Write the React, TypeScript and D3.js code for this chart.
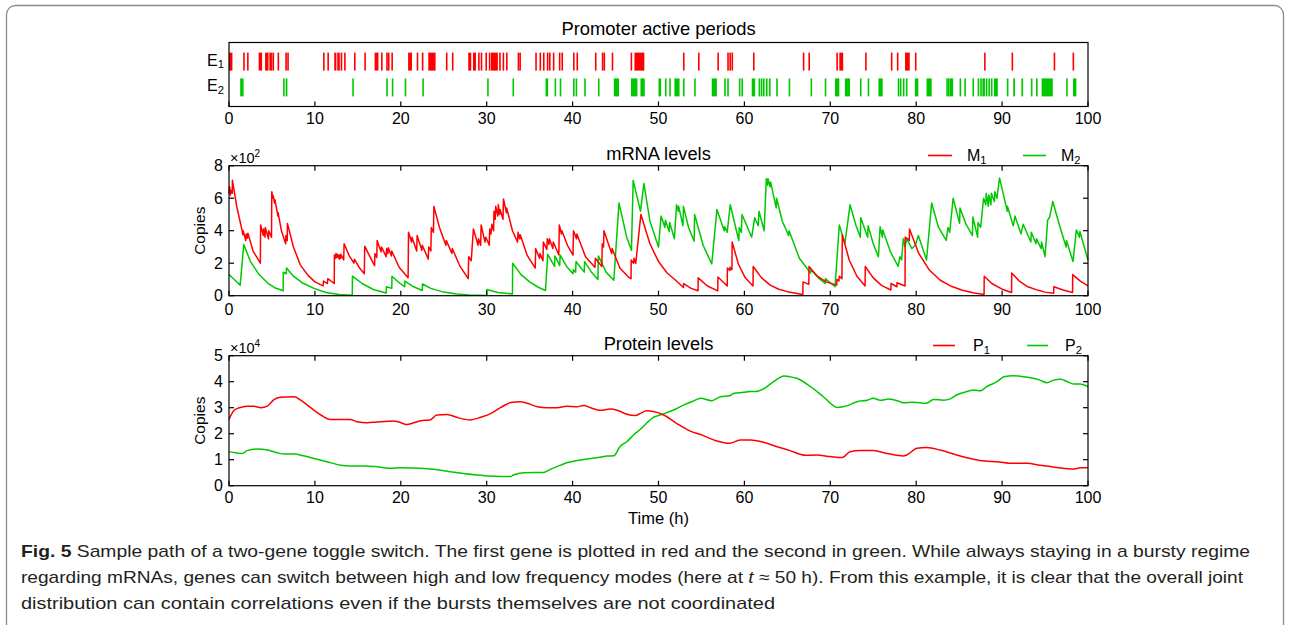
import React from 'react';
import * as d3 from 'd3';

type Pt = [number, number];

const RED = '#ff0000';
const GREEN = '#00c800';
const FONT = "'Liberation Sans', Arial, sans-serif";

const timeTicks = [0, 10, 20, 30, 40, 50, 60, 70, 80, 90, 100];
const mrnaTicks = [0, 2, 4, 6, 8];
const proteinTicks = [0, 1, 2, 3, 4, 5];
const promoterRows = ['1', '2'];

// promoter active periods [start, end] in h
const e1Periods: Pt[] = [
  [0, 0.4], [1.65, 1.8], [2.1, 2.25], [3.45, 3.85], [4.2, 4.6], [4.7, 5.0], [5.05, 5.25], [5.65, 5.8], [6.55, 6.7], [6.78, 6.9],
  [10.95, 11.1], [11.45, 11.6], [12.25, 12.5], [12.6, 12.9], [13.0, 13.1], [13.4, 13.5], [14.55, 14.7], [15.75, 15.9], [16.95, 17.4],
  [17.7, 17.85], [18.3, 18.4], [18.5, 18.6], [18.9, 19.0], [20.85, 21.3], [21.85, 21.95], [22.45, 22.55], [23.2, 24.05], [25.25, 25.35],
  [25.95, 26.05], [27.85, 28.2], [28.4, 28.75], [29.0, 29.1], [29.3, 29.4], [29.85, 29.95], [30.25, 30.35], [30.5, 31.3], [31.45, 31.55],
  [31.85, 31.95], [32.25, 32.35], [33.6, 33.7], [33.8, 33.9], [35.65, 35.75], [36.15, 36.25], [36.55, 36.65], [37.0, 37.1], [37.25, 37.35],
  [37.7, 37.8], [38.4, 38.5], [38.7, 38.8], [40.05, 40.15], [40.45, 40.55], [42.6, 42.7], [43.4, 43.5], [43.6, 43.7], [44.55, 44.65],
  [46.75, 46.85], [47.2, 48.35], [52.85, 52.95], [54.6, 54.7], [56.85, 56.95], [58.0, 58.1], [58.25, 58.35], [58.5, 58.6], [61.0, 61.1],
  [66.8, 66.9], [67.45, 67.55], [70.7, 70.85], [71.05, 71.5], [74.05, 74.15], [77.05, 77.15], [77.75, 77.85], [78.7, 79.25], [79.85, 79.95],
  [87.9, 88.05], [91.1, 91.25], [96.0, 96.1], [98.2, 98.35],
];

const e2Periods: Pt[] = [
  [1.3, 1.7], [6.3, 6.45], [6.6, 6.8], [14.35, 14.5], [18.3, 18.45], [18.95, 19.1], [20.45, 20.6], [22.5, 22.6], [30.05, 30.15], [33.0, 33.12],
  [36.85, 37.15], [37.9, 38.0], [38.5, 38.6], [40.05, 40.15], [40.35, 40.45], [41.35, 41.45], [42.95, 43.05], [44.8, 45.4], [46.8, 47.55],
  [47.9, 48.4], [50.0, 50.3], [50.75, 50.85], [51.25, 51.35], [51.85, 52.45], [52.85, 52.95], [54.15, 54.25], [56.2, 56.8], [57.65, 57.75],
  [58.0, 58.1], [59.35, 59.45], [59.65, 59.75], [60.85, 61.25], [61.65, 61.75], [61.9, 62.0], [62.15, 62.35], [62.5, 62.7], [62.85, 63.05],
  [63.7, 63.8], [65.15, 65.25], [67.7, 67.8], [69.35, 69.45], [70.55, 71.05], [71.7, 72.3], [73.45, 73.55], [74.35, 74.45], [75.6, 76.1],
  [77.85, 77.95], [78.1, 78.2], [78.45, 78.55], [78.8, 78.9], [79.85, 80.25], [81.2, 81.8], [83.5, 83.6], [83.7, 83.8], [83.9, 84.3],
  [85.05, 85.15], [85.6, 85.7], [86.55, 86.65], [87.15, 87.25], [87.45, 87.55], [87.7, 88.0], [88.1, 88.2], [88.4, 88.5], [88.7, 88.8],
  [89.05, 89.5], [90.55, 90.65], [91.3, 91.5], [92.25, 92.45], [93.35, 93.45], [93.95, 94.05], [94.6, 95.9], [97.45, 97.55], [98.25, 98.65],
];

// mRNA copies (x10^2), [t, value]
const m1: Pt[] = [
  [0, 6.3], [0.08, 6.7], [0.15, 6.2], [0.3, 6.5], [0.38, 6.3], [0.4, 7.1], [0.9, 5.5], [1.55, 3.95], [1.6, 3.75], [1.65, 4.0], [1.95, 3.4],
  [2.0, 3.8], [2.15, 3.55], [2.2, 3.85], [2.8, 2.75], [3.65, 2.0], [3.68, 4.35], [4.0, 3.7], [4.02, 4.1], [4.2, 3.6], [4.22, 4.2], [4.6, 3.5],
  [4.62, 4.0], [4.95, 3.6], [4.98, 6.4], [5.1, 6.0], [5.15, 6.15], [5.3, 5.7], [5.35, 5.9], [5.7, 4.9], [5.72, 5.1], [6.1, 4.0], [6.6, 3.2],
  [6.62, 3.7], [6.78, 3.4], [6.8, 4.45], [7.5, 3.0], [8.3, 1.9], [9.2, 1.25], [10.0, 0.85], [10.95, 0.6], [11.0, 0.9], [11.45, 0.75],
  [11.5, 1.05], [12.25, 0.75], [12.27, 2.5], [12.4, 2.3], [12.45, 2.6], [12.6, 2.35], [12.65, 2.55], [12.85, 2.25], [12.87, 2.5], [13.0, 2.3],
  [13.02, 2.55], [13.35, 2.2], [13.4, 3.2], [14.0, 2.45], [14.55, 2.0], [14.6, 2.25], [15.2, 1.7], [15.75, 1.35], [15.8, 3.05], [16.4, 2.4],
  [16.95, 1.85], [16.98, 2.6], [17.2, 2.35], [17.25, 3.4], [17.4, 3.15], [17.7, 2.7], [17.75, 3.0], [18.3, 2.4], [18.35, 2.9], [18.5, 2.6],
  [18.55, 2.95], [18.9, 2.45], [18.95, 2.75], [19.8, 1.75], [20.85, 1.1], [20.9, 3.9], [21.25, 3.3], [21.3, 3.6], [21.85, 2.75], [21.9, 3.7],
  [22.45, 2.8], [22.5, 3.1], [23.2, 2.25], [23.25, 3.0], [23.5, 2.75], [23.55, 4.2], [23.8, 3.9], [23.85, 5.5], [24.5, 4.2], [25.25, 3.1],
  [25.3, 3.4], [25.95, 2.6], [26.0, 2.9], [26.9, 1.8], [27.85, 1.05], [27.9, 2.4], [28.2, 2.15], [28.45, 4.1], [29.0, 3.1], [29.05, 3.5],
  [29.3, 3.1], [29.35, 4.35], [29.8, 3.3], [29.9, 3.6], [30.3, 3.1], [30.35, 4.1], [30.5, 3.8], [30.6, 4.4], [30.8, 4.0], [30.85, 5.2],
  [31.0, 4.7], [31.05, 5.5], [31.3, 4.9], [31.35, 5.6], [31.5, 5.0], [31.55, 5.3], [31.9, 4.7], [31.95, 5.95], [32.3, 5.1], [32.32, 5.4],
  [33.0, 4.0], [33.6, 3.3], [33.65, 3.9], [33.85, 3.5], [33.9, 3.75], [34.7, 2.5], [35.65, 1.7], [35.7, 2.9], [36.15, 2.3], [36.2, 2.6],
  [36.55, 2.15], [36.6, 3.3], [37.0, 2.85], [37.05, 3.5], [37.25, 3.15], [37.3, 3.5], [37.7, 2.9], [37.75, 3.3], [38.4, 2.5], [38.45, 4.35],
  [38.7, 3.8], [38.75, 4.0], [39.4, 3.1], [40.05, 2.5], [40.1, 4.0], [40.45, 3.5], [40.5, 3.8], [41.5, 2.4], [42.6, 1.75], [42.65, 2.3],
  [43.4, 1.8], [43.45, 3.2], [43.6, 3.0], [43.65, 4.0], [44.55, 2.6], [44.6, 2.9], [45.5, 1.7], [46.5, 1.15], [46.8, 1.05], [46.82, 2.2],
  [47.1, 2.0], [47.15, 2.3], [47.35, 2.0], [47.95, 5.0], [49.0, 3.2], [50.0, 2.1], [51.0, 1.4], [52.0, 0.95], [52.9, 0.5], [52.92, 0.75],
  [53.8, 0.45], [54.6, 0.3], [54.62, 1.1], [55.7, 0.6], [56.9, 0.3], [56.92, 1.15], [58.0, 0.6], [58.02, 1.7], [58.3, 1.55], [58.32, 1.75],
  [58.55, 1.6], [58.57, 3.3], [59.3, 1.95], [60.1, 1.1], [61.0, 0.6], [61.02, 1.8], [62.0, 1.1], [63.0, 0.65], [64.0, 0.4], [65.0, 0.25],
  [66.8, 0.08], [66.82, 0.85], [67.5, 0.7], [67.52, 1.8], [68.5, 1.2], [69.5, 0.85], [70.75, 0.65], [70.77, 1.0], [71.0, 0.9], [71.05, 1.2],
  [71.35, 1.05], [71.4, 3.75], [72.2, 2.2], [73.1, 1.2], [74.05, 0.6], [74.07, 1.8], [75.0, 1.1], [76.0, 0.62], [77.05, 0.35], [77.07, 0.75],
  [77.75, 0.55], [77.77, 0.8], [78.7, 0.6], [78.72, 3.6], [79.2, 3.4], [79.22, 4.1], [80.3, 2.6], [81.5, 1.6], [82.8, 0.95], [84.0, 0.6],
  [85.3, 0.35], [86.6, 0.18], [87.9, 0.08], [87.92, 1.2], [88.8, 0.75], [90.0, 0.4], [91.1, 0.2], [91.12, 1.4], [92.0, 0.9], [93.0, 0.55],
  [94.2, 0.33], [95.0, 0.22], [96.0, 0.15], [96.02, 0.55], [97.1, 0.35], [98.2, 0.2], [98.22, 1.3], [99.1, 0.9], [100, 0.6],
];

const m2: Pt[] = [
  [0, 1.3], [0.7, 0.95], [1.3, 0.65], [1.72, 3.15], [2.5, 2.1], [3.5, 1.3], [4.5, 0.78], [5.4, 0.47], [6.3, 0.3], [6.32, 1.45], [6.65, 1.35],
  [6.7, 1.7], [7.5, 1.2], [8.5, 0.8], [9.9, 0.45], [11.3, 0.2], [12.8, 0.08], [14.35, 0.03], [14.37, 1.2], [15.5, 0.75], [16.8, 0.38],
  [18.3, 0.17], [18.32, 0.55], [18.95, 0.45], [18.97, 1.2], [19.8, 0.8], [20.45, 0.55], [20.47, 0.9], [21.5, 0.55], [22.5, 0.32],
  [22.52, 0.72], [23.5, 0.45], [24.8, 0.25], [26.5, 0.1], [28.0, 0.05], [30.0, 0.02], [30.02, 0.38], [31.3, 0.2], [33.0, 0.1], [33.02, 2.0],
  [34.0, 1.3], [35.0, 0.85], [36.0, 0.52], [36.85, 0.32], [37.1, 2.55], [37.9, 1.8], [37.95, 2.45], [38.5, 1.85], [38.55, 2.5], [39.3, 1.8],
  [40.05, 1.35], [40.1, 1.6], [40.35, 1.45], [40.4, 2.1], [41.35, 1.45], [41.4, 2.1], [42.2, 1.45], [42.95, 1.0], [43.0, 2.45], [43.9, 1.45],
  [44.8, 0.95], [45.4, 5.7], [46.3, 3.6], [46.85, 2.8], [47.05, 7.1], [47.9, 5.2], [48.3, 6.9], [49.0, 4.6], [50.0, 3.0], [50.3, 4.9],
  [50.75, 4.2], [50.8, 4.65], [51.25, 3.95], [51.3, 4.5], [51.85, 3.5], [52.1, 5.6], [52.3, 5.2], [52.35, 5.5], [52.85, 4.3], [52.9, 5.5],
  [53.5, 4.2], [54.15, 3.35], [54.2, 5.0], [55.2, 3.1], [56.2, 1.95], [56.8, 5.3], [57.65, 4.0], [57.7, 4.25], [58.0, 3.9], [58.35, 5.6],
  [59.35, 3.4], [59.4, 4.2], [59.65, 3.9], [59.72, 5.0], [60.85, 3.6], [61.2, 4.8], [61.6, 4.3], [61.7, 5.2], [62.3, 4.0], [62.55, 7.2],
  [62.7, 6.8], [62.75, 7.2], [63.0, 6.7], [63.05, 7.0], [63.7, 5.4], [63.75, 6.0], [64.4, 4.6], [65.15, 3.7], [65.2, 4.0], [66.4, 2.3],
  [67.7, 1.4], [67.75, 1.6], [68.6, 1.1], [69.4, 0.75], [69.42, 1.05], [70.55, 0.55], [71.05, 4.35], [71.7, 3.2], [72.3, 5.6], [73.0, 4.3],
  [73.5, 3.6], [73.55, 4.8], [74.35, 3.6], [74.4, 4.3], [75.0, 3.2], [75.6, 2.4], [75.8, 4.25], [76.05, 3.6], [76.1, 4.05], [77.0, 2.7],
  [77.9, 1.8], [78.1, 2.4], [78.3, 2.2], [78.5, 3.5], [78.7, 3.0], [78.9, 3.5], [79.5, 2.9], [79.9, 3.1], [80.25, 3.7], [81.2, 2.2],
  [81.8, 5.7], [82.6, 4.2], [83.5, 3.4], [83.7, 4.2], [83.9, 3.9], [84.3, 6.0], [85.05, 4.45], [85.1, 5.4], [85.8, 4.4], [86.55, 3.7],
  [86.6, 4.85], [87.15, 3.6], [87.2, 4.5], [87.5, 4.2], [87.85, 6.0], [88.1, 5.6], [88.15, 6.3], [88.4, 5.5], [88.45, 6.2], [88.7, 5.6],
  [88.75, 6.3], [89.1, 5.8], [89.15, 6.4], [89.4, 6.0], [89.7, 7.25], [90.6, 5.2], [90.62, 5.5], [91.3, 4.3], [91.5, 4.9], [92.2, 3.8],
  [92.45, 4.4], [93.35, 3.3], [93.4, 3.9], [93.95, 3.2], [94.0, 3.5], [94.55, 2.9], [94.6, 3.3], [95.0, 2.4], [95.3, 4.65], [95.5, 4.8],
  [95.6, 5.0], [95.9, 5.8], [96.7, 4.3], [97.45, 3.0], [97.5, 3.4], [98.25, 2.1], [98.65, 4.05], [99.0, 3.6], [99.05, 3.95], [100, 2.2],
];

// protein copies (x10^4)
const p1: Pt[] = [
  [0, 2.55], [0.6, 2.9], [1.2, 3.0], [2.1, 3.06], [2.9, 3.06], [3.7, 3.0], [4.5, 3.07], [5.2, 3.3], [6.0, 3.4], [7.6, 3.42], [8.3, 3.3],
  [9.5, 3.0], [10.7, 2.72], [11.8, 2.55], [12.6, 2.55], [14.1, 2.55], [14.9, 2.46], [16.1, 2.42], [17.2, 2.45], [19.2, 2.49], [19.8, 2.45],
  [20.7, 2.35], [21.5, 2.42], [22.3, 2.5], [23.4, 2.53], [24.2, 2.72], [25.4, 2.74], [26.5, 2.63], [28.1, 2.53], [29.3, 2.63], [30.4, 2.76],
  [31.6, 3.0], [32.8, 3.2], [33.9, 3.23], [34.7, 3.17], [35.9, 3.04], [37.0, 3.0], [38.2, 3.0], [39.3, 3.06], [40.5, 3.04], [41.3, 3.08],
  [42.1, 3.0], [43.2, 2.9], [44.4, 2.95], [45.2, 2.9], [46.3, 2.75], [47.3, 2.7], [47.9, 2.78], [48.6, 2.88], [49.4, 2.85], [50.6, 2.72],
  [52.1, 2.4], [53.7, 2.1], [54.9, 1.97], [56.8, 1.72], [58.3, 1.63], [59.5, 1.76], [60.7, 1.76], [62.2, 1.67], [63.8, 1.5], [65.3, 1.35],
  [67.1, 1.17], [68.4, 1.18], [70.0, 1.12], [71.4, 1.08], [72.3, 1.31], [73.5, 1.35], [75.0, 1.35], [76.6, 1.24], [78.5, 1.14], [78.9, 1.18],
  [80.1, 1.44], [81.2, 1.47], [82.8, 1.37], [84.7, 1.18], [86.3, 1.05], [88.0, 0.95], [89.4, 0.92], [91.3, 0.86], [92.9, 0.86], [94.4, 0.79],
  [96.4, 0.7], [98.3, 0.64], [99.1, 0.69], [100, 0.69],
];

const p2: Pt[] = [
  [0, 1.31], [1.55, 1.24], [2.1, 1.35], [3.3, 1.41], [4.5, 1.37], [5.6, 1.27], [6.4, 1.22], [7.6, 1.22], [8.7, 1.15], [9.9, 1.05],
  [11.4, 0.92], [13.0, 0.79], [14.1, 0.76], [15.7, 0.76], [17.2, 0.73], [18.8, 0.67], [20.0, 0.69], [22.3, 0.67], [23.8, 0.63], [25.4, 0.56],
  [27.3, 0.47], [28.9, 0.41], [30.4, 0.37], [32.8, 0.35], [33.1, 0.41], [34.3, 0.5], [35.5, 0.51], [36.6, 0.51], [37.4, 0.63], [38.6, 0.79],
  [39.3, 0.88], [40.9, 0.99], [42.1, 1.05], [43.2, 1.09], [44.0, 1.14], [44.8, 1.15], [45.5, 1.5], [46.3, 1.69], [47.1, 1.95], [47.9, 2.17],
  [48.6, 2.4], [49.4, 2.63], [50.2, 2.72], [51.7, 2.9], [52.9, 3.1], [54.0, 3.25], [54.9, 3.36], [56.2, 3.27], [57.2, 3.42], [58.3, 3.46],
  [58.7, 3.55], [59.9, 3.59], [60.7, 3.62], [61.3, 3.62], [62.2, 3.72], [63.4, 4.0], [64.6, 4.22], [65.3, 4.19], [66.1, 4.13], [67.7, 3.81],
  [69.2, 3.42], [70.8, 3.01], [72.0, 3.08], [73.1, 3.23], [74.3, 3.29], [75.0, 3.36], [75.8, 3.29], [76.8, 3.33], [77.8, 3.27], [78.5, 3.19],
  [79.7, 3.21], [81.2, 3.17], [82.0, 3.32], [83.2, 3.29], [83.9, 3.33], [84.7, 3.49], [85.9, 3.62], [86.7, 3.68], [87.5, 3.65], [88.2, 3.81],
  [89.4, 4.0], [90.2, 4.19], [91.3, 4.23], [92.5, 4.19], [93.3, 4.15], [94.4, 4.06], [95.2, 3.96], [96.0, 4.06], [96.8, 4.09], [97.6, 4.0],
  [98.3, 3.91], [99.1, 3.91], [100, 3.81],
];

const X0 = 229;
const X1 = 1088;
const TICK = 5;
const TICK_FONT = 16;

function Sub({ base, sub, x, y, anchor = 'start', size = 15 }: { base: string; sub: string; x: number; y: number; anchor?: string; size?: number }) {
  return (
    <text x={x} y={y} textAnchor={anchor} fontSize={size} fontFamily={FONT}>
      {base}
      <tspan fontSize={size * 0.7} dy={2.5}>{sub}</tspan>
    </text>
  );
}

function Frame({ top, bottom, y, yTicks, mirror = true }: { top: number; bottom: number; y?: d3.ScaleLinear<number, number>; yTicks?: number[]; mirror?: boolean }) {
  const x = d3.scaleLinear().domain([0, 100]).range([X0, X1]);
  return (
    <g stroke="#000" strokeWidth={1.2} fill="none">
      {timeTicks.map(t => (
        <g key={'xt' + t}>
          <line x1={x(t)} x2={x(t)} y1={bottom} y2={bottom - TICK} />
          {mirror && <line x1={x(t)} x2={x(t)} y1={top} y2={top + TICK} />}
        </g>
      ))}
      {y && yTicks && yTicks.map(v => (
        <g key={'yt' + v}>
          <line x1={X0} x2={X0 + TICK} y1={y(v)} y2={y(v)} />
          <line x1={X1} x2={X1 - TICK} y1={y(v)} y2={y(v)} />
        </g>
      ))}
      <rect x={X0} y={top} width={X1 - X0} height={bottom - top} />
    </g>
  );
}

export default function App() {
  const x = d3.scaleLinear().domain([0, 100]).range([X0, X1]);

  // panel 1
  const p1Top = 42.5, p1Bottom = 106.5;
  const row = d3.scalePoint<string>().domain(promoterRows).range([p1Top, p1Bottom]).padding(0.74);
  const barH = 18;

  // panel 2
  const p2Top = 165.7, p2Bottom = 295.7;
  const yM = d3.scaleLinear().domain([0, 8]).range([p2Bottom, p2Top]);
  const mLine = d3.line<Pt>().x(d => x(d[0])).y(d => yM(d[1])).curve(d3.curveLinear);

  // panel 3
  const p3Top = 355.7, p3Bottom = 485.7;
  const yP = d3.scaleLinear().domain([0, 5]).range([p3Bottom, p3Top]);
  const pLine = d3.line<Pt>().x(d => x(d[0])).y(d => yP(d[1])).curve(d3.curveMonotoneX);

  const xLabels = (bottom: number, dy: number) =>
    timeTicks.map(t => (
      <text key={'xl' + t} x={x(t)} y={bottom + dy} textAnchor="middle" fontSize={TICK_FONT} fontFamily={FONT}>{t}</text>
    ));

  const yLabels = (ticks: number[], y: d3.ScaleLinear<number, number>) =>
    ticks.map(v => (
      <text key={'yl' + v} x={X0 - 6} y={y(v) + 5.5} textAnchor="end" fontSize={TICK_FONT} fontFamily={FONT}>{v}</text>
    ));

  const periodBars = (periods: Pt[], r: string, color: string) =>
    periods.map((p, i) => (
      <rect key={r + i} x={x(p[0])} y={(row(r) as number) - barH / 2} width={Math.max(1.6, x(p[1]) - x(p[0]))} height={barH} fill={color} />
    ));

  const midX = (X0 + X1) / 2;

  return (
    <svg width={1290} height={625} style={{ position: 'absolute', left: 0, top: 0, background: '#fff' }}>
      <rect x={6.5} y={5.5} width={1277} height={660} rx={9} fill="none" stroke="#8a8a8a" strokeWidth={1.3} />

      {/* Promoter active periods */}
      <text x={midX} y={35} textAnchor="middle" fontSize={18.4} fontFamily={FONT}>Promoter active periods</text>
      {periodBars(e1Periods, '1', RED)}
      {periodBars(e2Periods, '2', GREEN)}
      {promoterRows.map(r => (
        <Sub key={'lab' + r} base="E" sub={r} x={X0 - 5} y={(row(r) as number) + 4} anchor="end" size={16} />
      ))}
      <Frame top={p1Top} bottom={p1Bottom} mirror={false} />
      {xLabels(p1Bottom, 17.5)}

      {/* mRNA levels */}
      <text x={midX} y={160} textAnchor="middle" fontSize={18.3} fontFamily={FONT}>mRNA levels</text>
      <text x={230} y={162.5} fontSize={14.5} fontFamily={FONT}>×10<tspan fontSize={10} dy={-6}>2</tspan></text>
      <line x1={928} x2={952} y1={155.5} y2={155.5} stroke={RED} strokeWidth={1.6} />
      <Sub base="M" sub="1" x={967} y={161} size={16} />
      <line x1={1023} x2={1046} y1={155.5} y2={155.5} stroke={GREEN} strokeWidth={1.6} />
      <Sub base="M" sub="2" x={1061} y={161} size={16} />
      <path d={mLine(m2) ?? ''} fill="none" stroke={GREEN} strokeWidth={1.5} strokeLinejoin="round" />
      <path d={mLine(m1) ?? ''} fill="none" stroke={RED} strokeWidth={1.5} strokeLinejoin="round" />
      <Frame top={p2Top} bottom={p2Bottom} y={yM} yTicks={mrnaTicks} />
      {xLabels(p2Bottom, 19.5)}
      {yLabels(mrnaTicks, yM)}
      <text transform={`translate(204.5,${(p2Top + p2Bottom) / 2}) rotate(-90)`} textAnchor="middle" fontSize={15.5} fontFamily={FONT}>Copies</text>

      {/* Protein levels */}
      <text x={midX} y={350} textAnchor="middle" fontSize={18.3} fontFamily={FONT}>Protein levels</text>
      <text x={230} y={352.5} fontSize={14.5} fontFamily={FONT}>×10<tspan fontSize={10} dy={-6}>4</tspan></text>
      <line x1={933} x2={955} y1={345.5} y2={345.5} stroke={RED} strokeWidth={1.6} />
      <Sub base="P" sub="1" x={973} y={351} size={16} />
      <line x1={1027} x2={1048} y1={345.5} y2={345.5} stroke={GREEN} strokeWidth={1.6} />
      <Sub base="P" sub="2" x={1065} y={351} size={16} />
      <path d={pLine(p2) ?? ''} fill="none" stroke={GREEN} strokeWidth={1.5} />
      <path d={pLine(p1) ?? ''} fill="none" stroke={RED} strokeWidth={1.5} />
      <Frame top={p3Top} bottom={p3Bottom} y={yP} yTicks={proteinTicks} />
      {xLabels(p3Bottom, 17.5)}
      {yLabels(proteinTicks, yP)}
      <text transform={`translate(204.5,${(p3Top + p3Bottom) / 2}) rotate(-90)`} textAnchor="middle" fontSize={15.5} fontFamily={FONT}>Copies</text>
      <text x={midX} y={524} textAnchor="middle" fontSize={16.5} fontFamily={FONT}>Time (h)</text>

      {/* caption */}
      <g fontFamily={FONT} fontSize={17} fill="#231f20">
        <text x={21} y={557} textLength={1229} lengthAdjust="spacingAndGlyphs">
          <tspan fontWeight="bold">Fig. 5</tspan> Sample path of a two-gene toggle switch. The first gene is plotted in red and the second in green. While always staying in a bursty regime
        </text>
        <text x={21} y={583} textLength={1222} lengthAdjust="spacingAndGlyphs">
          regarding mRNAs, genes can switch between high and low frequency modes (here at <tspan fontStyle="italic">t</tspan> ≈ 50 h). From this example, it is clear that the overall joint
        </text>
        <text x={21} y={609} textLength={754} lengthAdjust="spacingAndGlyphs">
          distribution can contain correlations even if the bursts themselves are not coordinated
        </text>
      </g>
    </svg>
  );
}
